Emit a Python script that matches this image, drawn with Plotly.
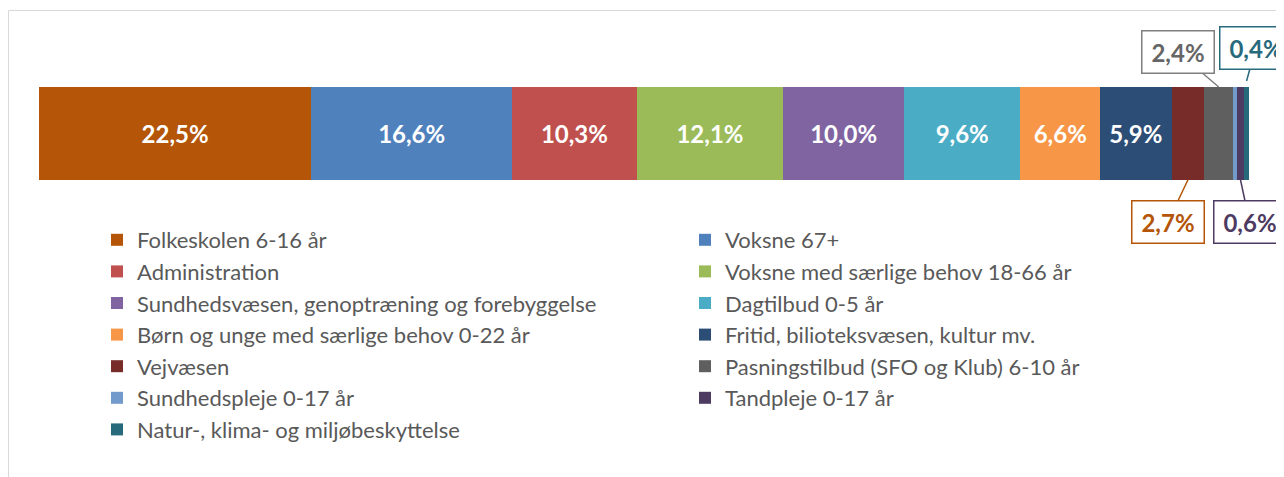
import plotly.graph_objects as go

categories = [
    "Folkeskolen 6-16 år",
    "Voksne 67+",
    "Administration",
    "Voksne med særlige behov 18-66 år",
    "Sundhedsvæsen, genoptræning og forebyggelse",
    "Dagtilbud 0-5 år",
    "Børn og unge med særlige behov 0-22 år",
    "Fritid, bilioteksvæsen, kultur mv.",
    "Vejvæsen",
    "Pasningstilbud (SFO og Klub) 6-10 år",
    "Sundhedspleje 0-17 år",
    "Tandpleje 0-17 år",
    "Natur-, klima- og miljøbeskyttelse",
]
values = [22.5, 16.6, 10.3, 12.1, 10.0, 9.6, 6.6, 5.9, 2.7, 2.4, 0.3, 0.6, 0.4]
colors = ["#B45508", "#4F81BD", "#C0504D", "#9BBB59", "#8064A2", "#4BACC6",
          "#F79646", "#2C4D75", "#772C2A", "#5F5F5F", "#729ACA", "#4D3B62", "#276A7C"]
inside_label = [True, True, True, True, True, True, True, True, False, False, False, False, False]

# callouts: category index -> (text colour, border colour, ax, ay, side, tip gap px)
callouts = {
    8: ("#B45508", "#B45508", -20, 42, "bottom", 0),
    9: ("#666666", "#7F7F7F", -41, -35, "top", 0),
    11: ("#4D3B62", "#4D3B62", 9, 42, "bottom", 0),
    12: ("#276A7C", "#276A7C", 9, -33, "top", 6),
}

FONT = "Lato"
# layout geometry (figure px; page adds an 8px body margin)
L, T, B = 31, 51, 277
W_FIG, H_FIG = 1284, 477
PLOT_W = W_FIG - L            # plot area runs to right edge
PLOT_H = H_FIG - T - B        # 149
BAR_PX = 1210                 # px for 100 %
BAR_W = 93 / PLOT_H
XMAX = 100 * PLOT_W / BAR_PX

fig = go.Figure()
for i, (c, v, col) in enumerate(zip(categories, values, colors)):
    fig.add_trace(go.Bar(
        x=[v], y=[0], name=c, orientation="h",
        marker=dict(color=col, line=dict(width=0)),
        width=BAR_W,
        texttemplate="%{x:.1f}%" if inside_label[i] else "",
        textposition="inside", insidetextanchor="middle",
        textfont=dict(family=FONT, size=24, color="white", weight="bold"),
        hoverinfo="name+x",
    ))

cum = 0
for i, v in enumerate(values):
    mid = cum + v / 2
    cum += v
    if i in callouts:
        tcol, bcol, ax, ay, side, gap = callouts[i]
        yy = BAR_W / 2 + gap / PLOT_H if side == "top" else -BAR_W / 2 - gap / PLOT_H
        fig.add_annotation(
            x=mid, y=yy, xref="x", yref="y",
            text=f"{v:.1f}".replace(".", ",") + "%",
            showarrow=True, arrowhead=0, arrowwidth=1.5, arrowcolor=bcol,
            ax=ax, ay=ay, standoff=0,
            font=dict(family=FONT, size=24, color=tcol, weight="bold"),
            bordercolor=bcol, borderwidth=1.5, borderpad=2, bgcolor="white",
            width=67, height=37,
        )

# outer chart-area border
fig.add_shape(type="rect", xref="paper", yref="paper",
              x0=(0.5 - L) / PLOT_W, x1=1.1,
              y0=(T + PLOT_H - 2.5) / PLOT_H, y1=-2.5,
              line=dict(color="#D9D9D9", width=1), fillcolor="rgba(0,0,0,0)", layer="below")

fig.update_layout(
    width=W_FIG, height=H_FIG,
    margin=dict(l=L, r=0, t=T, b=B, autoexpand=False),
    barmode="stack",
    separators=",.",
    paper_bgcolor="white", plot_bgcolor="white",
    showlegend=True,
    legend=dict(
        orientation="h", x=58 / PLOT_W, xanchor="left",
        y=-11 / PLOT_H, yanchor="top",
        font=dict(family=FONT, size=22, color="#595959"),
        entrywidth=543, entrywidthmode="pixels", traceorder="normal",
        itemclick=False, itemdoubleclick=False,
    ),
    xaxis=dict(range=[0, XMAX], visible=False, fixedrange=True),
    yaxis=dict(range=[-0.5, 0.5], visible=False, fixedrange=True),
    font=dict(family=FONT),
)

fig.write_html("out.html")
